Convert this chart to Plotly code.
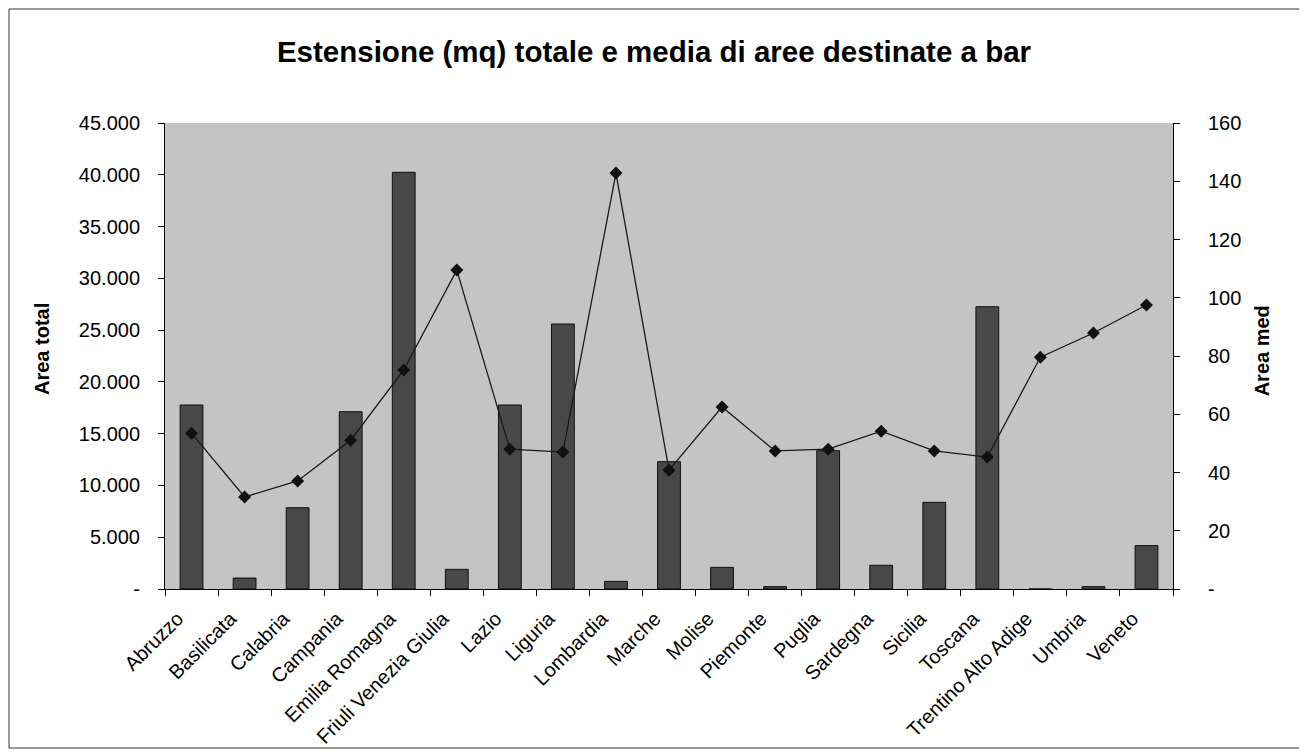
import plotly.graph_objects as go

regioni = ["Abruzzo", "Basilicata", "Calabria", "Campania", "Emilia Romagna",
           "Friuli Venezia Giulia", "Lazio", "Liguria", "Lombardia", "Marche",
           "Molise", "Piemonte", "Puglia", "Sardegna", "Sicilia", "Toscana",
           "Trentino Alto Adige", "Umbria", "Veneto"]
area_totale = [17770, 1060, 7850, 17120, 40240, 1900, 17770, 25590, 740, 12300,
               2090, 230, 13360, 2290, 8370, 27260, 0, 230, 4190]
area_media = [53.5, 31.6, 37.1, 51.1, 75.2, 109.5, 48.0, 47.0, 142.8, 40.8,
              62.5, 47.4, 48.0, 54.2, 47.4, 45.3, 79.6, 87.9, 97.5]

left_vals = [0, 5000, 10000, 15000, 20000, 25000, 30000, 35000, 40000, 45000]
left_text = ["-", "5.000", "10.000", "15.000", "20.000", "25.000", "30.000",
             "35.000", "40.000", "45.000"]
right_vals = [0, 20, 40, 60, 80, 100, 120, 140, 160]
right_text = ["-", "20", "40", "60", "80", "100", "120", "140", "160"]

FONT = "Liberation Sans, Arial, sans-serif"

fig = go.Figure()
fig.add_trace(go.Bar(
    x=regioni, y=area_totale, name="Area totale",
    marker=dict(color="#484848", line=dict(color="#111111", width=1)),
    width=0.43, yaxis="y"))
fig.add_trace(go.Scatter(
    x=regioni, y=area_media, name="Area media", mode="lines+markers",
    line=dict(color="#1a1a1a", width=1.3),
    marker=dict(symbol="diamond", size=10, color="#111111"),
    yaxis="y2"))

fig.update_layout(
    width=1307, height=754,
    margin=dict(l=157, r=142, t=115, b=173),
    paper_bgcolor="white", plot_bgcolor="#c4c4c4",
    showlegend=False,
    font=dict(family=FONT, color="black"),
    title=dict(text="<b>Estensione (mq) totale e media di aree destinate a bar</b>",
               x=(654 - 8) / 1307, xanchor="center", y=1 - (52 - 8) / 754,
               yanchor="middle", font=dict(size=29.5, family=FONT)),
    xaxis=dict(type="category", range=[-0.5, len(regioni) - 0.5],
               tickangle=-45, tickson="boundaries",
               ticks="outside", ticklen=6, tickcolor="black",
               showline=True, linecolor="black", linewidth=1,
               showgrid=False, ticklabelstandoff=9, ticklabelshift=-14,
               tickfont=dict(size=20, family=FONT)),
    yaxis=dict(range=[0, 45000], tickvals=left_vals, ticktext=left_text,
               ticks="outside", ticklen=6, tickcolor="black",
               showline=True, linecolor="black", linewidth=1,
               showgrid=False, zeroline=False, ticklabelstandoff=14,
               tickfont=dict(size=20, family=FONT)),
    yaxis2=dict(range=[0, 160], tickvals=right_vals, ticktext=right_text,
                overlaying="y", side="right",
                ticks="outside", ticklen=6, tickcolor="black",
                showline=True, linecolor="black", linewidth=1,
                showgrid=False, zeroline=False, ticklabelstandoff=24,
                tickfont=dict(size=20, family=FONT)),
)

fig.add_annotation(text="<b>Area total</b>", xref="paper", yref="paper",
                   x=(42 - 165) / 1008, y=0.515, xanchor="center", yanchor="middle",
                   textangle=-90, showarrow=False,
                   font=dict(size=20, family=FONT))
fig.add_annotation(text="<b>Area med</b>", xref="paper", yref="paper",
                   x=(1262 - 165) / 1008, y=0.51, xanchor="center", yanchor="middle",
                   textangle=-90, showarrow=False,
                   font=dict(size=20, family=FONT))

# chart outer border
fig.add_shape(type="rect", xref="paper", yref="paper",
              x0=(9 - 165) / 1008, x1=(1303 - 165) / 1008,
              y0=(589 - 748) / 466, y1=(589 - 9) / 466,
              line=dict(color="#333333", width=1), fillcolor="rgba(0,0,0,0)",
              layer="below")

fig.write_html("out.html")
